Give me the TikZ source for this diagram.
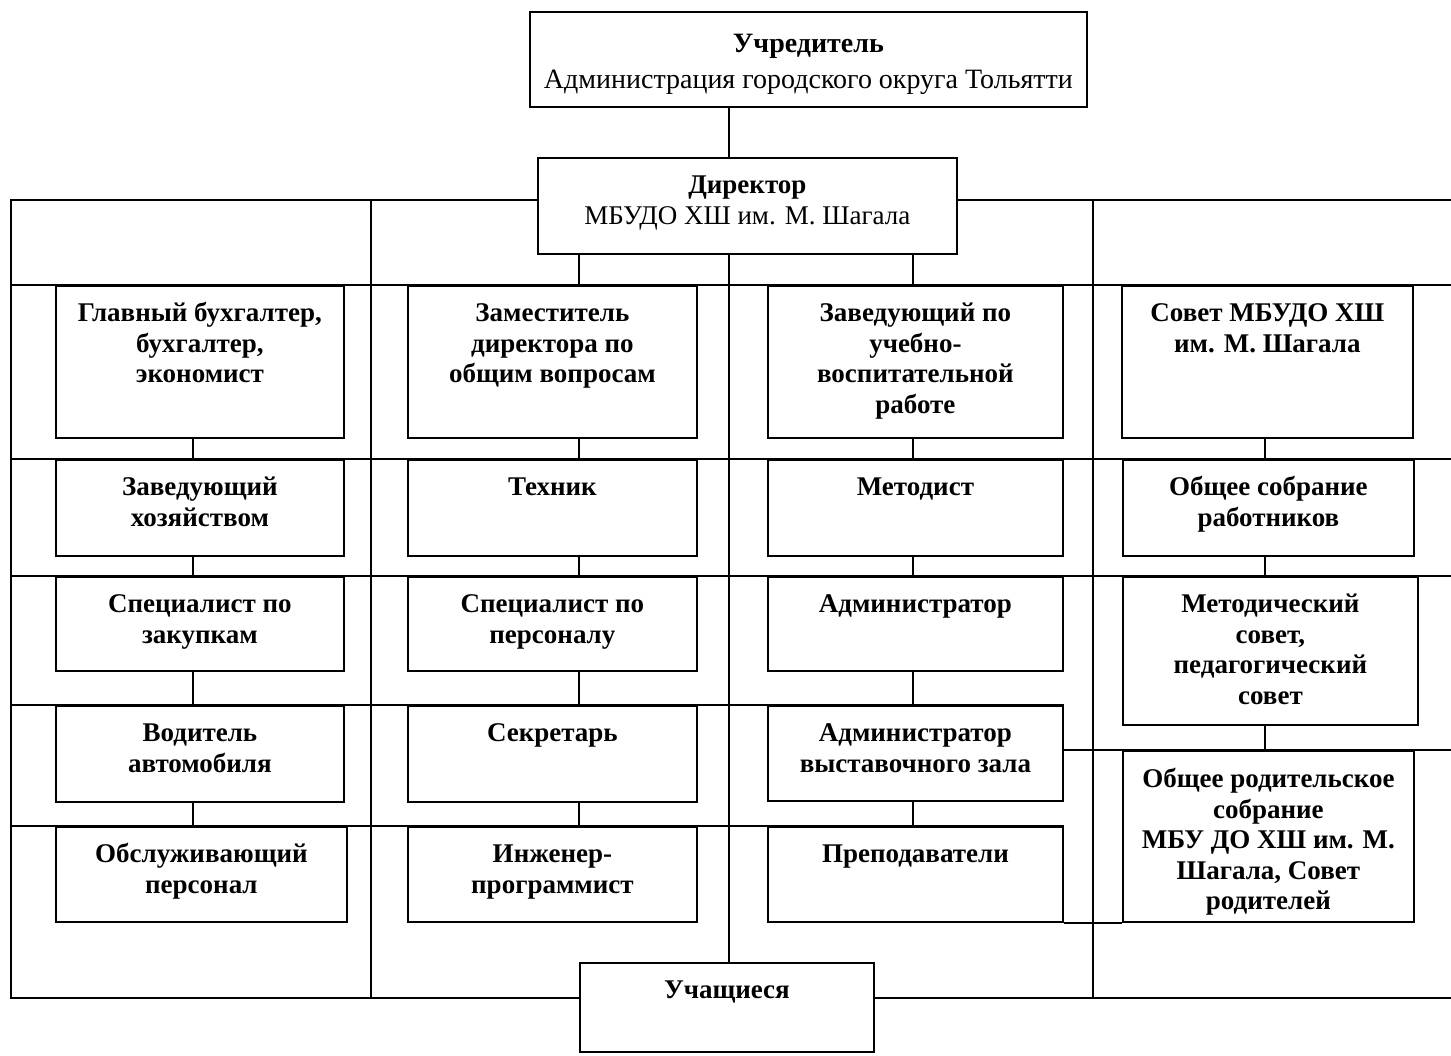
\documentclass[tikz,border=0pt]{standalone}
\usepackage{fontspec}
\setmainfont{Liberation Serif}
\tikzset{
  ubox/.style={draw, line width=1.8pt, fill=white, inner sep=0pt, anchor=north west,
    font=\fontsize{27}{30.5}\selectfont\bfseries},
  conn/.style={line width=1.8pt},
}
\newcommand\ubox[7][36]{\node[ubox] (#2) at (#3,#4) {\parbox[c][#6pt][t]{#5pt}{\centering\rule{0pt}{#1pt}#7\par}};}
\begin{document}
\begin{tikzpicture}[x=1pt,y=-1pt]
\useasboundingbox (0,0) rectangle (1451,1055);
% grid coordinates
\coordinate (L) at (11,0);
\coordinate (V1) at (371,0);
\coordinate (T) at (729,0);
\coordinate (V3) at (1093,0);
\coordinate (R) at (1451,0);
\coordinate (X1) at (193,0);
\coordinate (X2) at (579,0);
\coordinate (X3) at (913,0);
\coordinate (X4) at (1265,0);
\coordinate (H0) at (0,200);
\coordinate (H1) at (0,285);
\coordinate (H2) at (0,459);
\coordinate (H3) at (0,576);
\coordinate (H4) at (0,705);
\coordinate (H5) at (0,826);
\coordinate (H6) at (0,750);
\coordinate (H7) at (0,998);
% top boxes
\node[ubox, font=\fontsize{28}{36}\selectfont] (top) at (529,11)
  {\parbox[c][95pt][t]{557pt}{\centering\rule{0pt}{41pt}\textbf{Учредитель}\\\mbox{Администрация городского округа Тольятти}\par}};
\node[ubox, font=\fontsize{27}{31}\selectfont] (dir) at (537,157)
  {\parbox[c][96pt][t]{419pt}{\centering\rule{0pt}{36pt}\textbf{Директор}\\МБУДО ХШ им. М. Шагала\par}};
% column 1
\ubox{a1}{55}{285}{288}{152}{Главный бухгалтер,\\бухгалтер,\\экономист}
\ubox{a2}{55}{459}{288}{96}{Заведующий\\хозяйством}
\ubox{a3}{55}{576}{288}{94}{Специалист по\\закупкам}
\ubox{a4}{55}{705}{288}{96}{Водитель\\автомобиля}
\ubox{a5}{55}{826}{291}{95}{Обслуживающий\\персонал}
% column 2
\ubox{b1}{407}{285}{289}{152}{Заместитель\\директора по\\общим вопросам}
\ubox{b2}{407}{459}{289}{96}{Техник}
\ubox{b3}{407}{576}{289}{94}{Специалист по\\персоналу}
\ubox{b4}{407}{705}{289}{96}{Секретарь}
\ubox{b5}{407}{826}{289}{95}{Инженер-\\программист}
% column 3
\ubox{c1}{767}{285}{295}{152}{Заведующий по\\учебно-\\воспитательной\\работе}
\ubox{c2}{767}{459}{295}{96}{Методист}
\ubox{c3}{767}{576}{295}{94}{Администратор}
\ubox{c4}{767}{705}{295}{95}{Администратор\\выставочного зала}
\ubox{c5}{767}{826}{295}{95}{Преподаватели}
% column 4
\ubox{d1}{1121}{285}{291}{152}{Совет МБУДО ХШ\\им. М. Шагала}
\ubox{d2}{1122}{459}{291}{96}{Общее собрание\\работников}
\ubox{d3}{1122}{576}{295}{148}{Методический\\совет,\\педагогический\\совет}
\ubox[37]{d4}{1122}{750}{291}{171}{Общее родительское\\собрание\\МБУ ДО ХШ им. М.\\Шагала, Совет\\родителей}
% students
\ubox{stud}{579}{962}{294}{89}{Учащиеся}
% trunk
\draw[conn] (top.south -| T) -- (dir.north -| T);
\draw[conn] (dir.south -| T) -- (stud.north -| T);
% outer bus
\draw[conn] (dir.west |- H0) -- (H0 -| L) -- (H7 -| L) -- (stud.west |- H7);
\draw[conn] (dir.east |- H0) -- (H0 -| R);
\draw[conn] (stud.east |- H7) -- (H7 -| R);
\draw[conn] (H0 -| V1) -- (H7 -| V1);
\draw[conn] (H0 -| V3) -- (H7 -| V3);
% row lines
\draw[conn] (H1 -| L) -- (H1 -| R);
\draw[conn] (H2 -| L) -- (H2 -| R);
\draw[conn] (H3 -| L) -- (H3 -| R);
\draw[conn] (H4 -| L) -- (c4.north east);
\draw[conn] (H5 -| L) -- (c5.north east);
\draw[conn] (c4.east |- H6) -- (H6 -| R);
\draw[conn] (c5.south east) -- (d4.south west);
% column connectors
\draw[conn] (a1.south -| X1) -- (a2.north -| X1);
\draw[conn] (a2.south -| X1) -- (a3.north -| X1);
\draw[conn] (a3.south -| X1) -- (a4.north -| X1);
\draw[conn] (a4.south -| X1) -- (a5.north -| X1);
\draw[conn] (dir.south -| X2) -- (b1.north -| X2);
\draw[conn] (b1.south -| X2) -- (b2.north -| X2);
\draw[conn] (b2.south -| X2) -- (b3.north -| X2);
\draw[conn] (b3.south -| X2) -- (b4.north -| X2);
\draw[conn] (b4.south -| X2) -- (b5.north -| X2);
\draw[conn] (dir.south -| X3) -- (c1.north -| X3);
\draw[conn] (c1.south -| X3) -- (c2.north -| X3);
\draw[conn] (c2.south -| X3) -- (c3.north -| X3);
\draw[conn] (c3.south -| X3) -- (c4.north -| X3);
\draw[conn] (c4.south -| X3) -- (c5.north -| X3);
\draw[conn] (d1.south -| X4) -- (d2.north -| X4);
\draw[conn] (d2.south -| X4) -- (d3.north -| X4);
\draw[conn] (d3.south -| X4) -- (d4.north -| X4);
\end{tikzpicture}
\end{document}
